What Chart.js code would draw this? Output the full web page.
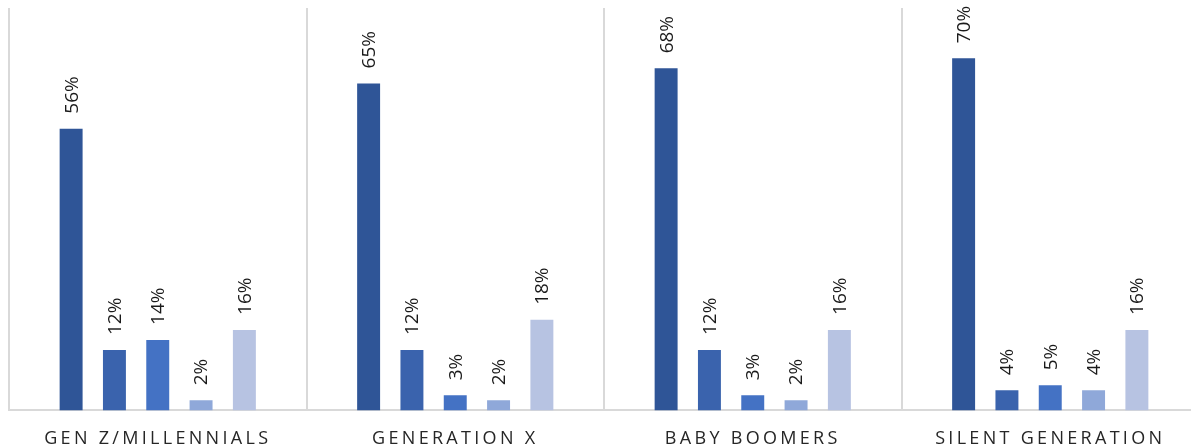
<!DOCTYPE html>
<html lang="en">
<head>
    <meta charset="UTF-8">
    <title>Generations</title>
    <script src="https://cdn.jsdelivr.net/npm/chart.js"></script>
    <style>
        html, body {
            margin: 0;
            padding: 0;
            background: #ffffff;
            overflow: hidden;
        }
        /* plot runs slightly past the right edge of the page */
        #wrap {
            width: 1199px;
            height: 448px;
        }
    </style>
</head>
<body>
    <div id="wrap"><canvas id="genChart"></canvas></div>

    <script>
        const categories = ['GEN Z/MILLENNIALS', 'GENERATION X', 'BABY BOOMERS', 'SILENT GENERATION'];

        // five answer groups per generation, in percent
        const series1 = [56, 65, 68, 70];
        const series2 = [12, 12, 12, 4];
        const series3 = [14, 3, 3, 5];
        const series4 = [2, 2, 2, 4];
        const series5 = [16, 18, 16, 16];

        const seriesColors = ['#2f5597', '#3a63ad', '#4472c4', '#8fa8d9', '#b7c3e2'];

        const allSeries = [series1, series2, series3, series4, series5];

        // rotated percentage labels above each bar
        const valueLabels = {
            id: 'valueLabels',
            afterDatasetsDraw(chart) {
                const ctx = chart.ctx;
                ctx.save();
                ctx.letterSpacing = '0px';
                ctx.font = '19px "Open Sans", sans-serif';
                ctx.fillStyle = '#1a1a1a';
                ctx.textAlign = 'left';
                ctx.textBaseline = 'middle';
                chart.data.datasets.forEach((ds, i) => {
                    const meta = chart.getDatasetMeta(i);
                    meta.data.forEach((bar, j) => {
                        ctx.save();
                        ctx.translate(bar.x + 1, bar.y - 15);
                        ctx.rotate(-Math.PI / 2);
                        ctx.fillText(ds.data[j] + '%', 0, 0);
                        ctx.restore();
                    });
                });
                ctx.restore();
            }
        };

        // wide spacing on the category names
        const spacedTicks = {
            id: 'spacedTicks',
            beforeDraw(chart) {
                chart.ctx.letterSpacing = '3.3px';
            }
        };

        new Chart(document.getElementById('genChart'), {
            type: 'bar',
            data: {
                labels: categories,
                datasets: allSeries.map((s, i) => ({
                    label: 'Series ' + (i + 1),
                    data: s,
                    backgroundColor: seriesColors[i],
                    borderWidth: 0,
                    barPercentage: 0.53,
                    categoryPercentage: 0.728
                }))
            },
            options: {
                responsive: true,
                maintainAspectRatio: false,
                animation: false,
                layout: {
                    padding: { left: 9, right: 0, top: 8, bottom: -20 }
                },
                plugins: {
                    legend: { display: false },
                    tooltip: { enabled: false }
                },
                scales: {
                    x: {
                        offset: true,
                        grid: {
                            offset: true,
                            color: '#d9d9d9',
                            lineWidth: 2,
                            drawTicks: false
                        },
                        border: { color: '#d9d9d9', width: 2 },
                        ticks: {
                            color: '#262626',
                            font: { family: '"Open Sans", sans-serif', size: 18 },
                            padding: 18,
                            maxRotation: 0,
                            autoSkip: false
                        }
                    },
                    y: {
                        display: false,
                        min: 0,
                        max: 80
                    }
                }
            },
            plugins: [valueLabels, spacedTicks]
        });
    </script>
</body>
</html>
